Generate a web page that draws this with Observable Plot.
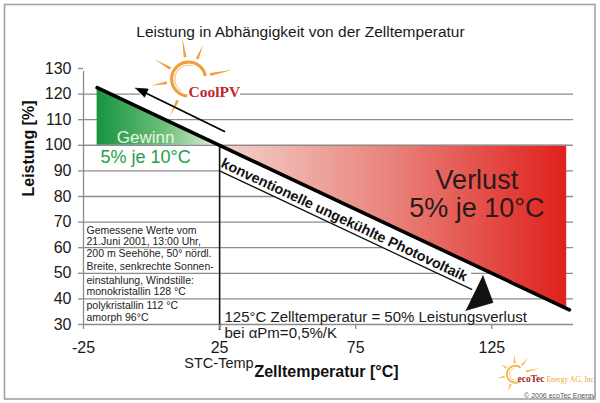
<!DOCTYPE html>
<html><head><meta charset="utf-8">
<script src="https://cdn.jsdelivr.net/npm/d3@7"></script>
<script src="https://cdn.jsdelivr.net/npm/@observablehq/plot@0.6"></script>
<style>html,body{margin:0;padding:0;background:#fff} svg{display:block}</style>
</head><body><div id="chart"></div>
<script>
// ---- texts ----
const title = "Leistung in Abhängigkeit von der Zelltemperatur";
const xLabel = "Zelltemperatur [°C]";
const yLabel = "Leistung [%]";
const stcLabel = "STC-Temp.";
const bandLabel = "konventionelle ungekühlte Photovoltaik";
const gainLabel = "Gewinn";
const gainRate = "5% je 10°C";
const lossLabel = "Verlust";
const lossRate = "5% je 10°C";
const lossNote1 = "125°C Zelltemperatur = 50% Leistungsverlust";
const lossNote2 = "bei αPm=0,5%/K";
const coolLabel = "CoolPV";
const noteLines = ["Gemessene Werte vom", "21.Juni 2001, 13:00 Uhr,", "200 m Seehöhe, 50° nördl.", "Breite, senkrechte Sonnen-", "einstahlung, Windstille:", "monokristallin 128 °C", "polykristallin 112 °C", "amorph 96°C"];
const noteValues = [66.5, 62.2, 57.5, 52.8, 47.3, 43.0, 37.2, 32.5];
const ecoName = "ecoTec";
const ecoRest = " Energy AG, Inc.";
const copyright = "© 2006 ecoTec Energy";

// ---- ticks ----
const xTicks = [-25, 25, 75, 125];
const yTicks = [30, 40, 50, 60, 70, 80, 90, 100, 110, 120, 130];
const gridValues = [30, 40, 50, 60, 70, 80, 90, 100, 110, 120];

// ---- data ----
const lineTemp = [-20, 25, 153.5];
const lineValue = [122.5, 100, 35.75];
const gainTemp = [-20, 25];
const gainValue = [122.5, 100];
const gainBase = [100, 100];
const lossTemp = [25, 152.5];
const lossValue = [100, 36.25];
const lossBase = [100, 100];
const bandTemp = [25, 117.6];
const bandTop = [100, 53.8];
const bandBottom = [90, 43.7];
const pointerTemp = [121.7, 125.4, 115.4];
const pointerValue = [49.1, 38.6, 35.5];
const arrowTemp = [26.8, -1.95];
const arrowValue = [105.4, 120.35];
const arrowHeadTemp = [-5.96, -1.25, -2.65];
const arrowHeadValue = [122.3, 121.95, 118.75];
const logoBoxTemp = [-4, 32.7];
const logoBoxValue = [117.5, 142.9];
const coolSun = {temp: 13.8, value: 125.7};
const ecoSun = {temp: 133.8, value: 10.4};
const ecoTextPos = {temp: 134.6, value: 7.2};

const sans = "'Liberation Sans', Arial, sans-serif";
const serif = "'Liberation Serif', 'Times New Roman', serif";
const gridColor = "#8c8c8c";

function gradients() {
  const defs = d3.create("svg:defs");
  const g = defs.append("linearGradient").attr("id", "gainGrad").attr("x1", 0).attr("x2", 1).attr("y1", 0).attr("y2", 0);
  g.append("stop").attr("offset", 0).attr("stop-color", "#169440");
  g.append("stop").attr("offset", 0.55).attr("stop-color", "#6dbf78");
  g.append("stop").attr("offset", 1).attr("stop-color", "#e6f2de");
  const r = defs.append("linearGradient").attr("id", "lossGrad").attr("x1", 0).attr("x2", 1).attr("y1", 0).attr("y2", 0);
  r.append("stop").attr("offset", 0).attr("stop-color", "#f3d3cc");
  r.append("stop").attr("offset", 0.5).attr("stop-color", "#e8827a");
  r.append("stop").attr("offset", 1).attr("stop-color", "#e0201c");
  return defs.node();
}

function sun(center, opt) {
  return (index, scales) => {
    const cx = scales.x(center.temp), cy = scales.y(center.value);
    const g = d3.create("svg:g").attr("transform", `translate(${cx},${cy})`);
    const rad = Math.PI / 180;
    g.append("path")
      .attr("d", d3.arc()({innerRadius: opt.r - opt.w / 2, outerRadius: opt.r + opt.w / 2, startAngle: opt.a0 * rad, endAngle: opt.a1 * rad}))
      .attr("fill", opt.color);
    g.append("path")
      .attr("d", d3.arc()({innerRadius: opt.r - opt.w / 2 - 2, outerRadius: opt.r - opt.w / 2 - 1.2, startAngle: (opt.a0 + 30) * rad, endAngle: (opt.a1 - 60) * rad}))
      .attr("fill", opt.color).attr("opacity", 0.8);
    for (const [a, ri, ro] of opt.rays) {
      const dx = Math.sin(a * rad), dy = -Math.cos(a * rad);
      const px = -dy, py = dx, hw = opt.rw / 2;
      const pts = [[ri * dx + px * hw, ri * dy + py * hw], [ro * dx, ro * dy], [ri * dx - px * hw, ri * dy - py * hw]];
      g.append("path").attr("d", "M" + pts.map(p => p.join(",")).join("L") + "Z").attr("fill", opt.color);
    }
    return g.node();
  };
}

function ecoText(index, scales) {
  const x = scales.x(ecoTextPos.temp), y = scales.y(ecoTextPos.value);
  const t = d3.create("svg:text").attr("x", x).attr("y", y).attr("font-family", serif).attr("text-anchor", "start");
  t.append("tspan").attr("font-weight", "bold").attr("font-size", 9.5).attr("fill", "#a8282a").text(ecoName);
  t.append("tspan").attr("font-size", 7.6).attr("fill", "#f0a53a").text(ecoRest);
  return t.node();
}

function border(index, scales, values, dims) {
  return d3.create("svg:rect").attr("x", 4.5).attr("y", 4.5).attr("width", dims.width - 9.5).attr("height", dims.height - 8.5)
    .attr("fill", "none").attr("stroke", "#a3a3a3").attr("stroke-width", 1.6).node();
}

const chart = Plot.plot({
  width: 600,
  height: 403,
  marginLeft: 83,
  marginRight: 27,
  marginTop: 68,
  marginBottom: 79,
  x: {domain: [-25, 155]},
  y: {domain: [30, 130]},
  style: {fontFamily: sans, background: "white", color: "#1a1a1a", overflow: "visible"},
  marks: [
    gradients,
    Plot.ruleY(gridValues, {stroke: gridColor, strokeWidth: 1.3}),
    Plot.areaY(gainTemp, {x: gainTemp, y1: gainBase, y2: gainValue, fill: "url(#gainGrad)"}),
    Plot.areaY(lossTemp, {x: lossTemp, y1: lossBase, y2: lossValue, fill: "url(#lossGrad)"}),
    Plot.areaY(bandTemp, {x: bandTemp, y1: bandBottom, y2: bandTop, fill: "white"}),
    Plot.line(bandTemp, {x: bandTemp, y: bandBottom, stroke: "#111", strokeWidth: 1.3}),
    Plot.ruleY([100], {stroke: gridColor, strokeWidth: 1.3}),
    Plot.ruleX([-25], {y1: 30, y2: 130, stroke: gridColor, strokeWidth: 1.3, insetBottom: -3}),
    Plot.ruleX([25], {y1: 100, y2: 30, stroke: "#111", strokeWidth: 1.6, insetBottom: -6}),
    Plot.line(lineTemp, {x: lineTemp, y: lineValue, stroke: "#000", strokeWidth: 3.6}),
    Plot.rect([0], {x1: [logoBoxTemp[0]], x2: [logoBoxTemp[1]], y1: [logoBoxValue[0]], y2: [logoBoxValue[1]], fill: "white"}),
    sun(coolSun, {r: 17, w: 3.2, a0: 185, a1: 440, color: "#f0a03c", rw: 3,
      rays: [[351, 22, 42], [23, 22, 37], [78, 22, 45], [300, 21, 40], [260, 22, 38], [207, 24, 42]]}),
    Plot.text([coolLabel], {x: [13.6], y: [121.0], text: d => d, textAnchor: "start", fontFamily: serif, fontWeight: "bold", fontSize: 15.5, fill: "#c0272d"}),
    Plot.line(arrowTemp, {x: arrowTemp, y: arrowValue, stroke: "#000", strokeWidth: 1.7}),
    Plot.line(arrowHeadTemp, {x: arrowHeadTemp, y: arrowHeadValue, fill: "#000", stroke: "#000", strokeWidth: 0.8}),
    Plot.text([gainLabel], {x: [-2.2], y: [103.2], text: d => d, fontSize: 17, fill: "#eaf5e6"}),
    Plot.text([gainRate], {x: [-2.2], y: [95.5], text: d => d, fontSize: 18, fill: "#24a047"}),
    Plot.text([lossLabel], {x: [119.5], y: [86.5], text: d => d, fontSize: 27, fill: "#2a1a1a"}),
    Plot.text([lossRate], {x: [119.5], y: [75.2], text: d => d, fontSize: 27, fill: "#2a1a1a"}),
    Plot.text([bandLabel], {x: [25.9], y: [93.3], text: d => d, textAnchor: "start", rotate: 25.2, fontSize: 14.3, fontWeight: "bold", fill: "#111"}),
    Plot.line(pointerTemp, {x: pointerTemp, y: pointerValue, fill: "#111", stroke: "#111", strokeWidth: 0.8}),
    Plot.text([lossNote1], {x: [26.8], y: [33.05], text: d => d, textAnchor: "start", fontSize: 15, fill: "#1a1a1a"}),
    Plot.text([lossNote2], {x: [26.8], y: [26.8], text: d => d, textAnchor: "start", fontSize: 15, fill: "#1a1a1a"}),
    Plot.text(noteLines, {x: noteLines.map(() => -23.9), y: noteValues, text: d => d, textAnchor: "start", fontSize: 10.5, fill: "#222"}),
    Plot.text([stcLabel], {x: [25.5], y: [14.9], text: d => d, fontSize: 14.5, fill: "#1a1a1a"}),
    Plot.axisY(yTicks, {tickSize: 5, tickPadding: 7, fontSize: 16, stroke: gridColor, strokeWidth: 1.3, color: "#1a1a1a", label: null, tickFormat: d => String(d)}),
    Plot.axisX(xTicks, {tickSize: 5, tickPadding: 12, fontSize: 16, stroke: gridColor, strokeWidth: 1.3, color: "#1a1a1a", label: null, tickFormat: d => String(d)}),
    Plot.text([title], {frameAnchor: "top", dx: -28, dy: -43, text: d => d, fontSize: 15.5, fill: "#1a1a1a"}),
    Plot.text([xLabel], {frameAnchor: "bottom", dx: -2, dy: 52, text: d => d, fontSize: 16, fontWeight: "bold", fill: "#111"}),
    Plot.text([yLabel], {frameAnchor: "left", dx: -55, rotate: -90, text: d => d, fontSize: 16, fontWeight: "bold", fill: "#111"}),
    sun(ecoSun, {r: 8.5, w: 2, a0: 150, a1: 400, color: "#f5b94c", rw: 2,
      rays: [[357, 11, 20], [37, 11, 21], [76, 11, 26], [257, 11, 19], [204, 11, 19], [305, 11, 17]]}),
    ecoText,
    Plot.text([copyright], {x: [162.9], y: [2.3], text: d => d, textAnchor: "end", fontSize: 7, fill: "#555"}),
    border
  ]
});
document.getElementById("chart").appendChild(chart);
</script>
</body></html>
